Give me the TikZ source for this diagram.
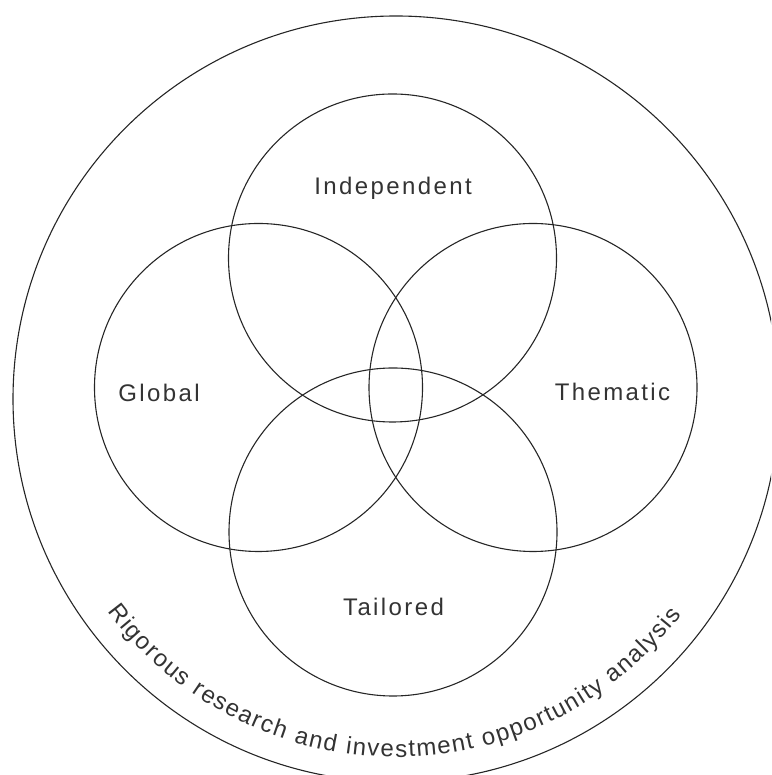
\documentclass[tikz,border=0pt]{standalone}
\usepackage{fontspec}
\setmainfont{Liberation Sans}
\newfontfamily\lblfont[LetterSpace=10]{Liberation Sans}
\usetikzlibrary{decorations.text}
\begin{document}
\begin{tikzpicture}[x=1pt,y=1pt,
  ring/.style={circle, draw=black!85, line width=1.1pt, inner sep=0pt},
  lbl/.style={font=\fontsize{24}{28}\lblfont, text=black!80, anchor=base, inner sep=0pt}]
\useasboundingbox (0,0) rectangle (771,775);
\clip (0,0) rectangle (771,775);
\coordinate (C) at (396,376);
\node[ring, minimum size=766pt] (outer) at (C) {};
\node[ring, minimum size=328pt] (indep) at (392.5,517) {};
\node[ring, minimum size=328pt] (glob) at (258.5,387.5) {};
\node[ring, minimum size=328pt] (them) at (533,387.5) {};
\node[ring, minimum size=328pt] (tail) at (393,243) {};
\node[lbl] (lindep) at (393,580) {Independent};
\node[lbl] (lglob) at (159,373) {Global};
\node[lbl] (lthem) at (612.5,374) {Thematic};
\node[lbl] (ltail) at (393.5,159) {Tailored};
\path[decorate, decoration={text along path,
  text={|\fontsize{24}{28}\selectfont\color{black!80}|Rigorous research and investment opportunity analysis},
  text align={fit to path}}]
  ([shift={(216.4:358)}]C) arc[start angle=216.4, end angle=322.9, radius=358];
\end{tikzpicture}
\end{document}
